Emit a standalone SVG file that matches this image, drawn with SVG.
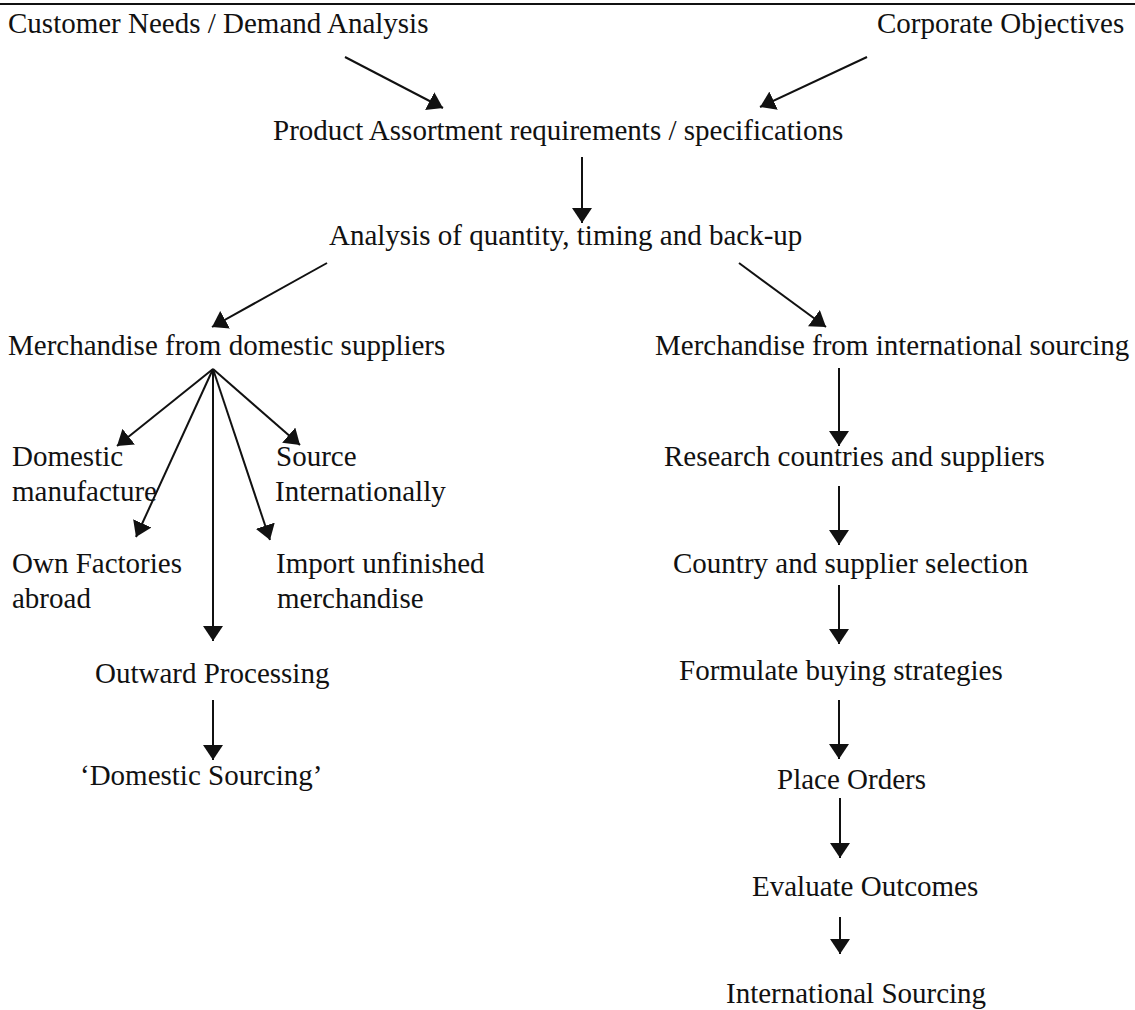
<svg xmlns="http://www.w3.org/2000/svg" width="1135" height="1010" viewBox="0 0 1135 1010">
  <style>
    text { font-family: "Liberation Serif", "Times New Roman", serif; font-size: 29px; fill: #111; }
    .conn line { stroke: #111; stroke-width: 2; marker-end: url(#head); }
  </style>
  <defs>
    <marker id="head" markerUnits="userSpaceOnUse" viewBox="0 0 15 20" refX="15" refY="10" markerWidth="15" markerHeight="20" orient="auto">
      <path d="M0,0 L15,10 L0,20 z" fill="#111"/>
    </marker>
  </defs>
  <rect width="1135" height="1010" fill="#fff"/>
  <line x1="0" y1="4" x2="1135" y2="4" stroke="#111" stroke-width="2"/>

  <g id="customer-needs"><text x="8" y="33">Customer Needs / Demand Analysis</text></g>
  <g id="corporate-objectives"><text x="877" y="33">Corporate Objectives</text></g>
  <g id="product-assortment"><text x="273" y="140">Product Assortment requirements / specifications</text></g>
  <g id="analysis"><text x="329" y="245">Analysis of quantity, timing and back-up</text></g>
  <g id="merch-domestic"><text x="8" y="355">Merchandise from domestic suppliers</text></g>
  <g id="merch-international"><text x="655" y="355">Merchandise from international sourcing</text></g>

  <g id="domestic-manufacture">
    <text x="12" y="466">Domestic</text>
    <text x="12" y="501">manufacture</text>
  </g>
  <g id="source-internationally">
    <text x="276" y="466">Source</text>
    <text x="275" y="501">Internationally</text>
  </g>
  <g id="own-factories">
    <text x="12" y="573">Own Factories</text>
    <text x="12" y="608">abroad</text>
  </g>
  <g id="import-unfinished">
    <text x="276" y="573">Import unfinished</text>
    <text x="277" y="608">merchandise</text>
  </g>
  <g id="outward-processing"><text x="95" y="683">Outward Processing</text></g>
  <g id="domestic-sourcing"><text x="80" y="785">‘Domestic Sourcing’</text></g>

  <g id="research"><text x="664" y="466">Research countries and suppliers</text></g>
  <g id="selection"><text x="673" y="573">Country and supplier selection</text></g>
  <g id="strategies"><text x="679" y="680">Formulate buying strategies</text></g>
  <g id="place-orders"><text x="777" y="789">Place Orders</text></g>
  <g id="evaluate"><text x="752" y="896">Evaluate Outcomes</text></g>
  <g id="international-sourcing"><text x="726" y="1003">International Sourcing</text></g>

  <g id="connectors" class="conn">
    <line x1="345" y1="57" x2="443" y2="108"/>
    <line x1="867" y1="57" x2="760" y2="107"/>
    <line x1="582" y1="157" x2="582" y2="223"/>
    <line x1="327" y1="263" x2="212" y2="327"/>
    <line x1="739" y1="263" x2="826" y2="327"/>
    <!-- fan out of domestic suppliers -->
    <line x1="213" y1="369" x2="117" y2="446"/>
    <line x1="213" y1="369" x2="136" y2="537"/>
    <line x1="213" y1="369" x2="213" y2="641"/>
    <line x1="213" y1="369" x2="270" y2="540"/>
    <line x1="213" y1="369" x2="300" y2="445"/>
    <line x1="213" y1="700" x2="213" y2="760"/>
    <!-- international chain -->
    <line x1="839" y1="368" x2="839" y2="446"/>
    <line x1="839" y1="486" x2="839" y2="545"/>
    <line x1="839" y1="585" x2="839" y2="644"/>
    <line x1="839" y1="700" x2="839" y2="759"/>
    <line x1="840" y1="798" x2="840" y2="858"/>
    <line x1="840" y1="917" x2="840" y2="954"/>
  </g>
</svg>
